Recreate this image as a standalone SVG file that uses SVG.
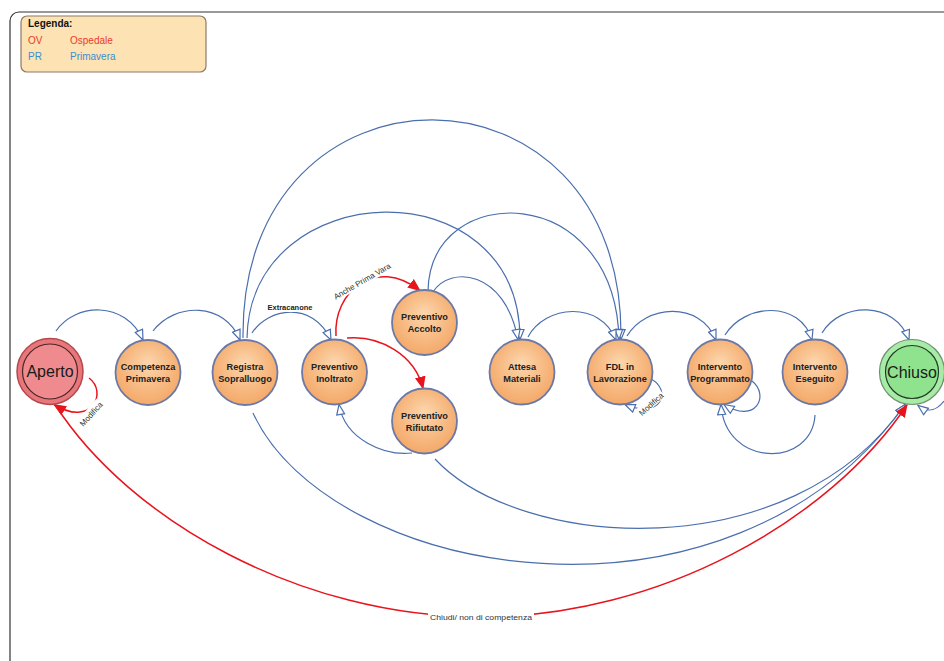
<svg xmlns="http://www.w3.org/2000/svg" width="944" height="661" viewBox="0 0 944 661">
<defs>
<radialGradient id="gOr" cx="50%" cy="45%" r="55%" fx="50%" fy="35%">
<stop offset="0" stop-color="#fcd6ad"/>
<stop offset="1" stop-color="#f4a969"/>
</radialGradient>
<marker id="aB" viewBox="0 0 12 10" refX="11" refY="5" markerWidth="12" markerHeight="10" markerUnits="userSpaceOnUse" orient="auto">
<path d="M1 1 L11 5 L1 9 Z" fill="#fff" stroke="#4a6fae" stroke-width="1.2"/>
</marker>
<marker id="aR" viewBox="0 0 12 10" refX="11" refY="5" markerWidth="13" markerHeight="11" markerUnits="userSpaceOnUse" orient="auto">
<path d="M0 0 L12 5 L0 10 Z" fill="#e8141c"/>
</marker>
</defs>
<style>
.frame{fill:#fff;stroke:#333;stroke-width:1.2}
.b{fill:none;stroke:#4a6fae;stroke-width:1.2;marker-end:url(#aB)}
.bn{fill:none;stroke:#4a6fae;stroke-width:1.2}
.r{fill:none;stroke:#e8141c;stroke-width:1.5;marker-end:url(#aR)}
.node{fill:url(#gOr);stroke:#6c79a6;stroke-width:1.8}
.nt{font-family:"Liberation Sans",Arial,sans-serif;font-size:9.2px;font-weight:bold;fill:#222;text-anchor:middle}
.big{font-family:"Liberation Sans",Arial,sans-serif;font-size:16px;fill:#1a1a1a;text-anchor:middle}
.lbl{font-family:"Liberation Sans",Arial,sans-serif;font-size:8px;fill:#333;text-anchor:middle}
.lg{font-family:"Liberation Sans",Arial,sans-serif;font-size:10px}
</style>
<rect class="frame" x="10" y="12" width="960" height="670" rx="9"/>

<g id="legend">
<rect x="21" y="16" width="185" height="56" rx="6" fill="#fde2b4" stroke="#8a7a68" stroke-width="1.2"/>
<text class="lg" x="28" y="27" font-weight="bold" fill="#111">Legenda:</text>
<text class="lg" x="28" y="44" fill="#ea3a2c">OV</text>
<text class="lg" x="70" y="44" fill="#ea3a2c">Ospedale</text>
<text class="lg" x="28" y="60" fill="#3b8ed0">PR</text>
<text class="lg" x="70" y="60" fill="#3b8ed0">Primavera</text>
</g>

<g id="connectors">
<path class="b" d="M56 331 C75 303,125 300,143 340"/>
<path class="b" d="M153 331 C175 302,225 302,240 340"/>
<path class="b" d="M252 333 C268 308,312 300,331 340"/>
<path class="r" d="M336 336 C333 292,375 256,420 290.5"/>
<path class="r" d="M347 338 C380 335,415 355,423 388.5"/>
<path class="b" d="M412 453 C385 456,345 440,339 404.5"/>
<path class="b" d="M435 459 C520 550,790 570,905 404.5"/>
<path class="b" d="M253 413 C330 580,730 650,905 404.5"/>
<path class="b" d="M243 338 C240 47,625 47,621 339.5"/>
<path class="b" d="M247 338 C250 175,520 165,520 339.5"/>
<path class="b" d="M428 291 C430 180,615 180,619 339.5"/>
<path class="b" d="M433 292 C450 265,505 270,518 339.5"/>
<path class="b" d="M528 337 C545 305,600 300,616 340"/>
<path class="b" d="M627 336 C645 305,700 300,716 340"/>
<path class="b" d="M725 335 C745 303,800 300,812 340"/>
<path class="b" d="M822 333 C840 302,895 300,909 340"/>
<path class="b" d="M651 379 C672 390,662 420,625 404.5"/>
<path class="b" d="M752 381 C770 395,756 425,724 404.5"/>
<path class="b" d="M815 415 C812 468,725 468,721 404.5"/>
<path class="b" d="M944 401 C936 411,928 413,918 405.5"/>
<path class="r" d="M89 378 C108 392,92 428,54 404.5"/>
<path class="r" d="M56 406 C130 520,300 617,481 617 C660 617,830 520,907 405"/>
<rect x="264" y="302" width="52" height="10" fill="#fff"/>
<text x="290" y="310" font-family="Liberation Sans,Arial,sans-serif" font-size="7.5" font-weight="bold" fill="#222" text-anchor="middle">Extracanone</text>
<g transform="translate(362,281) rotate(-30)">
<rect x="-35" y="-6" width="70" height="11" fill="#fff"/>
<text class="lbl" x="0" y="3" font-size="8.5">Anche Prima Vara</text>
</g>
<g transform="translate(91,414) rotate(-48)">
<rect x="-16" y="-6" width="32" height="10" fill="#fff"/>
<text class="lbl" x="0" y="3">Modifica</text>
</g>
<g transform="translate(651,404) rotate(-42)">
<rect x="-16" y="-6" width="32" height="10" fill="#fff"/>
<text class="lbl" x="0" y="3">Modifica</text>
</g>
<rect x="428" y="611" width="106" height="11" fill="#fff"/>
<text class="lbl" x="481" y="620" textLength="102" lengthAdjust="spacingAndGlyphs">Chiudi/ non di competenza</text>
</g>

<g id="aperto">
<circle cx="50" cy="371.5" r="33" fill="#e8777b" stroke="#b5484d" stroke-width="1.5"/>
<circle cx="50" cy="371.5" r="27.5" fill="#ef8b8e" stroke="#4a2526" stroke-width="1.2"/>
<text class="big" x="50" y="377" font-size="15.5">Aperto</text>
</g>
<g id="competenza-primavera">
<circle class="node" cx="148" cy="372.5" r="32.5"/>
<text class="nt" x="148" y="370">Competenza</text>
<text class="nt" x="148" y="382">Primavera</text>
</g>
<g id="registra-sopralluogo">
<circle class="node" cx="245" cy="372.5" r="32.5"/>
<text class="nt" x="245" y="370">Registra</text>
<text class="nt" x="245" y="382">Sopralluogo</text>
</g>
<g id="preventivo-inoltrato">
<circle class="node" cx="334.5" cy="372" r="32.5"/>
<text class="nt" x="334.5" y="370">Preventivo</text>
<text class="nt" x="334.5" y="382">Inoltrato</text>
</g>
<g id="preventivo-accolto">
<circle class="node" cx="424.5" cy="322.5" r="32.5"/>
<text class="nt" x="424.5" y="320">Preventivo</text>
<text class="nt" x="424.5" y="332">Accolto</text>
</g>
<g id="preventivo-rifiutato">
<circle class="node" cx="424.5" cy="421" r="32.5"/>
<text class="nt" x="424.5" y="418.5">Preventivo</text>
<text class="nt" x="424.5" y="430.5">Rifiutato</text>
</g>
<g id="attesa-materiali">
<circle class="node" cx="522" cy="372" r="32.5"/>
<text class="nt" x="522" y="370">Attesa</text>
<text class="nt" x="522" y="382">Materiali</text>
</g>
<g id="fdl-in-lavorazione">
<circle class="node" cx="620" cy="372" r="32.5"/>
<text class="nt" x="620" y="370">FDL in</text>
<text class="nt" x="620" y="382">Lavorazione</text>
</g>
<g id="intervento-programmato">
<circle class="node" cx="720" cy="372" r="32.5"/>
<text class="nt" x="720" y="370">Intervento</text>
<text class="nt" x="720" y="382">Programmato</text>
</g>
<g id="intervento-eseguito">
<circle class="node" cx="815" cy="372" r="32.5"/>
<text class="nt" x="815" y="370">Intervento</text>
<text class="nt" x="815" y="382">Eseguito</text>
</g>
<g id="chiuso">
<circle cx="912" cy="372" r="32.5" fill="#a6eba6" stroke="#6f8f6f" stroke-width="1.2"/>
<circle cx="912" cy="372" r="26.5" fill="#8fe38f" stroke="#243c24" stroke-width="1.2"/>
<text class="big" x="912" y="378" font-size="16.5">Chiuso</text>
</g>
</svg>
